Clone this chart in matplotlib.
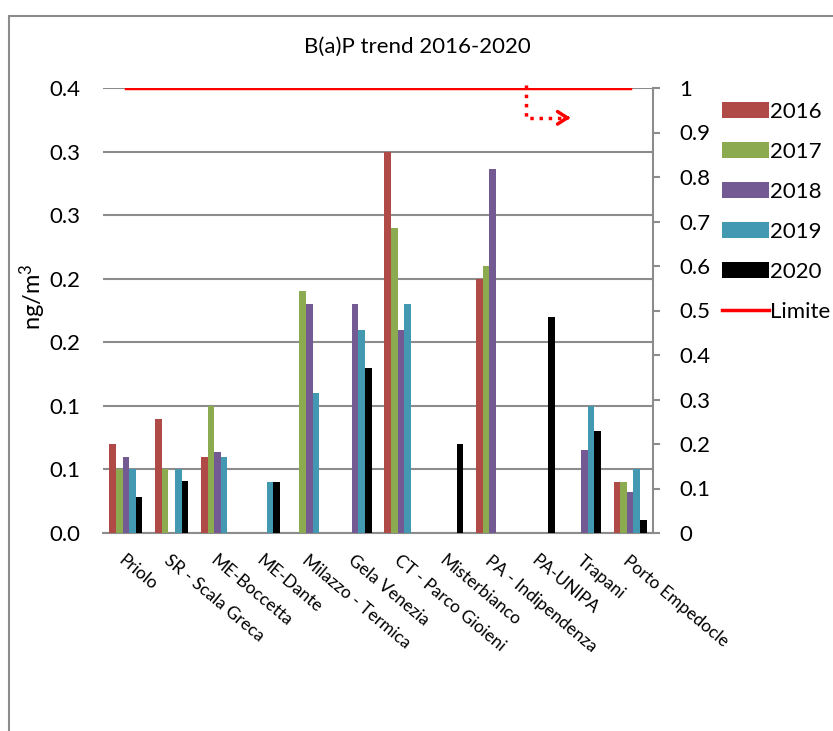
import matplotlib
matplotlib.use("Agg")
import matplotlib.pyplot as plt
from matplotlib.patches import Rectangle
import numpy as np

plt.rcParams['font.family'] = ['Lato', 'DejaVu Sans']
plt.rcParams['mathtext.default'] = 'regular'

# stazioni
stations = ["Priolo", "SR - Scala Greca", "ME-Boccetta", "ME-Dante", "Milazzo - Termica",
            "Gela Venezia", "CT - Parco Gioieni", "Misterbianco", "PA - Indipendenza",
            "PA-UNIPA", "Trapani", "Porto Empedocle"]

# valori B(a)P ng/m3 (None = dato mancante)
v2016 = [0.07, 0.09, 0.06, None, None, None, 0.30, None, 0.20, None, None, 0.04]
v2017 = [0.05, 0.05, 0.10, None, 0.19, None, 0.24, None, 0.21, None, None, 0.04]
v2018 = [0.06, None, 0.064, None, 0.18, 0.18, 0.16, None, 0.286, None, 0.065, 0.032]
v2019 = [0.05, 0.05, 0.06, 0.04, 0.11, 0.16, 0.18, None, None, None, 0.10, 0.05]
v2020 = [0.028, 0.041, None, 0.04, None, 0.13, None, 0.07, None, 0.17, 0.08, 0.01]
limite = [1.0] * len(stations)

years = ["2016", "2017", "2018", "2019", "2020"]
series = [v2016, v2017, v2018, v2019, v2020]
colors = ["#B04A47", "#8CAA4F", "#735A92", "#4499B2", "#000000"]

left_ticks = [0, 0.05, 0.10, 0.15, 0.20, 0.25, 0.30, 0.35]
left_labels = ["0.0", "0.1", "0.1", "0.2", "0.2", "0.3", "0.3", "0.4"]
right_ticks = [0, 0.1, 0.2, 0.3, 0.4, 0.5, 0.6, 0.7, 0.8, 0.9, 1.0]
right_labels = ["0", "0.1", "0.2", "0.3", "0.4", "0.5", "0.6", "0.7", "0.8", "0.9", "1"]

W, H = 833, 731
fig = plt.figure(figsize=(W / 100, H / 100), dpi=100)
ax = fig.add_axes([103 / W, 1 - 533 / H, 550 / W, 445 / H])
grid_c = "#8c8c8c"

x = np.arange(len(stations))
bw = 0.144
for i, (vals, yr, c) in enumerate(zip(series, years, colors)):
    h = [np.nan if v is None else v for v in vals]
    ax.bar(x + (i - 2) * bw, h, width=bw, color=c, label=yr, zorder=3)

ax.set_xlim(-0.5, len(stations) - 0.5)
ax.set_ylim(0, 0.35)
ax.set_yticks(left_ticks)
ax.set_yticklabels(left_labels, fontsize=16)
ax.tick_params(axis='y', length=0, pad=16)
ax.yaxis.grid(True, color=grid_c, lw=1.5, zorder=0)
ax.set_axisbelow(True)
ax.set_xticks(x)
ax.set_xticklabels(stations, rotation=-40, ha='left', va='top', rotation_mode='anchor', fontsize=12.5)
ax.tick_params(axis='x', length=0, pad=14)
for s in ["top", "left", "right"]:
    ax.spines[s].set_visible(False)
ax.spines["bottom"].set_color(grid_c)
ax.spines["bottom"].set_linewidth(1.5)
ax.set_ylabel("ng/m$^{3}$", fontsize=17, va='center')
ax.yaxis.set_label_coords(-0.127, 0.53)

# asse secondario per il limite
ax2 = ax.twinx()
ax2.set_ylim(0, 1)
ax2.set_yticks(right_ticks)
ax2.set_yticklabels(right_labels, fontsize=16)
ax2.tick_params(axis='y', direction='out', length=5, width=1.5, color=grid_c, pad=14)
for s in ["top", "left", "bottom"]:
    ax2.spines[s].set_visible(False)
ax2.spines["right"].set_color(grid_c)
ax2.spines["right"].set_linewidth(1.5)
ax2.plot(x, limite, color="red", lw=2.5, label="Limite", zorder=4)

# freccia verso l'asse destro
ax.plot([0.769, 0.769, 0.84], [1.007, 0.933, 0.933], transform=ax.transAxes,
        color="red", lw=2.5, ls=":", clip_on=False)
ax.annotate("", xy=(0.855, 0.933), xytext=(0.835, 0.933), xycoords='axes fraction',
            arrowprops=dict(arrowstyle='->,head_length=0.7,head_width=0.45', color='red', lw=2.5))

fig.text(417 / W, 1 - 47 / H, "B(a)P trend 2016-2020", ha='center', va='center', fontsize=16)

h1, l1 = ax.get_legend_handles_labels()
h2, l2 = ax2.get_legend_handles_labels()
fig.legend(h1 + h2, l1 + l2, loc='upper left', bbox_to_anchor=(722 / W, 1 - 102 / H),
           frameon=False, fontsize=16, handlelength=2.1, handletextpad=0.05,
           labelspacing=0.9, borderpad=0, borderaxespad=0)

fig.add_artist(Rectangle((9 / W, -0.1), 1.2, 1.1 - 16 / H, transform=fig.transFigure,
                         fill=False, edgecolor=grid_c, lw=1.5))

fig.savefig("out.png", dpi=100)
